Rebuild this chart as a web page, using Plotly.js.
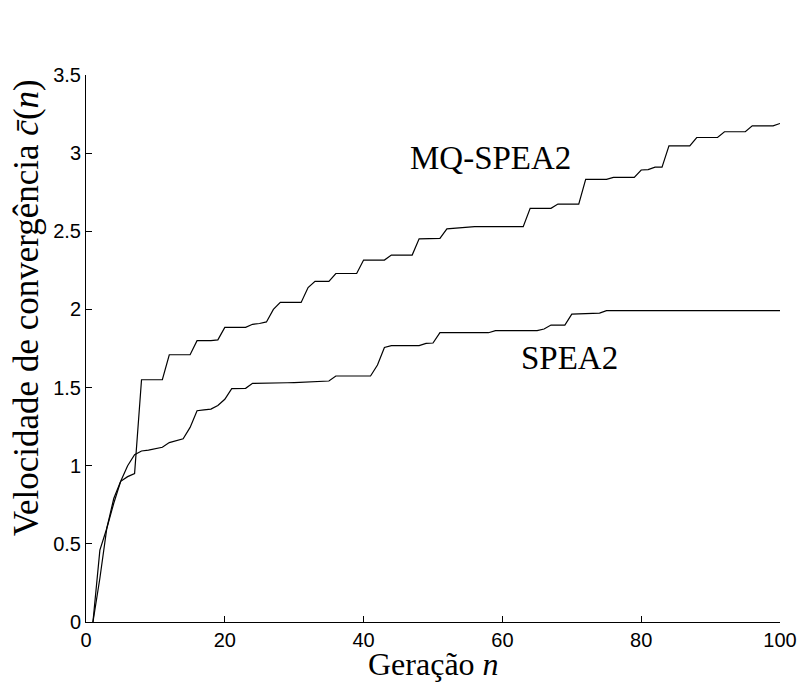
<!DOCTYPE html>
<html>
<head>
<meta charset="utf-8">
<script src="https://cdn.plot.ly/plotly-3.0.1.min.js"></script>
<style>html,body{margin:0;padding:0;background:#fff;}#chart{width:803px;height:686px;}</style>
</head>
<body>
<div id="chart"></div>
<script>
// Generation numbers 1..100
var generations = [];
for (var g = 1; g <= 100; g++) generations.push(g);

// MQ-SPEA2 convergence speed (generation 1..100)
var mqSpea2 = [
  0, 0.28, 0.60, 0.76, 0.90, 0.93, 0.95, 1.55, 1.55, 1.55,
  1.55, 1.71, 1.71, 1.71, 1.71, 1.80, 1.80, 1.80, 1.805, 1.885,
  1.885, 1.885, 1.885, 1.905, 1.91, 1.92, 2.00, 2.045, 2.045, 2.045,
  2.045, 2.14, 2.18, 2.18, 2.18, 2.23, 2.23, 2.23, 2.23, 2.316,
  2.316, 2.316, 2.316, 2.348, 2.348, 2.348, 2.348, 2.452, 2.452, 2.452,
  2.455, 2.516, 2.52, 2.52, 2.525, 2.53, 2.53, 2.53, 2.53, 2.53,
  2.53, 2.53, 2.53, 2.647, 2.647, 2.647, 2.647, 2.674, 2.674, 2.674,
  2.674, 2.832, 2.832, 2.832, 2.832, 2.845, 2.845, 2.845, 2.845, 2.892,
  2.895, 2.91, 2.91, 3.047, 3.047, 3.047, 3.047, 3.10, 3.10, 3.10,
  3.10, 3.137, 3.137, 3.137, 3.137, 3.175, 3.175, 3.175, 3.175, 3.19
];

// SPEA2 convergence speed (generation 1..100)
var spea2 = [
  0, 0.46, 0.60, 0.79, 0.90, 1.00, 1.07, 1.094, 1.10, 1.111,
  1.118, 1.148, 1.16, 1.172, 1.245, 1.352, 1.357, 1.362, 1.385, 1.425,
  1.493, 1.495, 1.495, 1.527, 1.527, 1.528, 1.529, 1.53, 1.531, 1.532,
  1.534, 1.536, 1.538, 1.54, 1.542, 1.574, 1.574, 1.574, 1.574, 1.574,
  1.574, 1.644, 1.757, 1.768, 1.768, 1.768, 1.768, 1.768, 1.783, 1.785,
  1.851, 1.851, 1.851, 1.851, 1.851, 1.851, 1.851, 1.851, 1.864, 1.864,
  1.864, 1.864, 1.864, 1.864, 1.864, 1.875, 1.90, 1.90, 1.90, 1.97,
  1.972, 1.973, 1.974, 1.976, 1.992, 1.992, 1.992, 1.992, 1.992, 1.992,
  1.992, 1.992, 1.992, 1.992, 1.992, 1.992, 1.992, 1.992, 1.992, 1.992,
  1.992, 1.992, 1.992, 1.992, 1.992, 1.992, 1.992, 1.992, 1.992, 1.992
];

var xTicks = [0, 20, 40, 60, 80, 100];
var yTicks = [0, 0.5, 1, 1.5, 2, 2.5, 3, 3.5];
var yTickText = ['0', '0.5', '1', '1.5', '2', '2.5', '3', '3.5'];

var seriesNames = ['MQ-SPEA2', 'SPEA2'];
var xTitle = 'Geração <i>n</i>';
var yTitle = 'Velocidade de convergência <i>c\u0304</i>(<i>n</i>)';

var serif = 'Liberation Serif, Times New Roman, serif';
var sans = 'Liberation Sans, Arial, Helvetica, sans-serif';

var traces = [
  {x: generations, y: mqSpea2, type: 'scatter', mode: 'lines', name: seriesNames[0],
   line: {color: '#000', width: 1.2}},
  {x: generations, y: spea2, type: 'scatter', mode: 'lines', name: seriesNames[1],
   line: {color: '#000', width: 1.2}}
];

var layout = {
  width: 803, height: 686,
  margin: {l: 86, r: 23, t: 75, b: 64},
  paper_bgcolor: '#fff', plot_bgcolor: '#fff',
  showlegend: false,
  font: {family: sans, size: 20, color: '#000'},
  xaxis: {
    range: [0, 100], tickvals: xTicks, ticktext: xTicks.map(String),
    ticks: 'inside', ticklen: 6, tickwidth: 1, tickcolor: '#000',
    showline: true, linecolor: '#000', linewidth: 1, mirror: false,
    showgrid: false, zeroline: false,
    tickfont: {family: sans, size: 20, color: '#000'}
  },
  yaxis: {
    range: [0, 3.5], tickvals: yTicks, ticktext: yTickText,
    ticks: 'inside', ticklen: 6, tickwidth: 1, tickcolor: '#000',
    showline: true, linecolor: '#000', linewidth: 1, mirror: false,
    showgrid: false, zeroline: false,
    tickfont: {family: sans, size: 20, color: '#000'}
  },
  annotations: [
    {xref: 'paper', yref: 'paper', x: 0.5, y: -0.041, text: xTitle, showarrow: false,
     xanchor: 'center', yanchor: 'top', font: {family: serif, size: 32, color: '#000'}},
    {xref: 'paper', yref: 'paper', x: -0.086, y: 0.574, text: yTitle, showarrow: false,
     textangle: -90, xanchor: 'center', yanchor: 'middle', font: {family: serif, size: 35, color: '#000'}},
    {xref: 'x', yref: 'y', x: 58.3, y: 2.97, text: seriesNames[0], showarrow: false,
     xanchor: 'center', yanchor: 'middle', font: {family: serif, size: 33, color: '#000'}},
    {xref: 'x', yref: 'y', x: 69.6, y: 1.69, text: seriesNames[1], showarrow: false,
     xanchor: 'center', yanchor: 'middle', font: {family: serif, size: 33, color: '#000'}}
  ]
};

Plotly.newPlot('chart', traces, layout, {staticPlot: true, displayModeBar: false});
</script>
</body>
</html>
